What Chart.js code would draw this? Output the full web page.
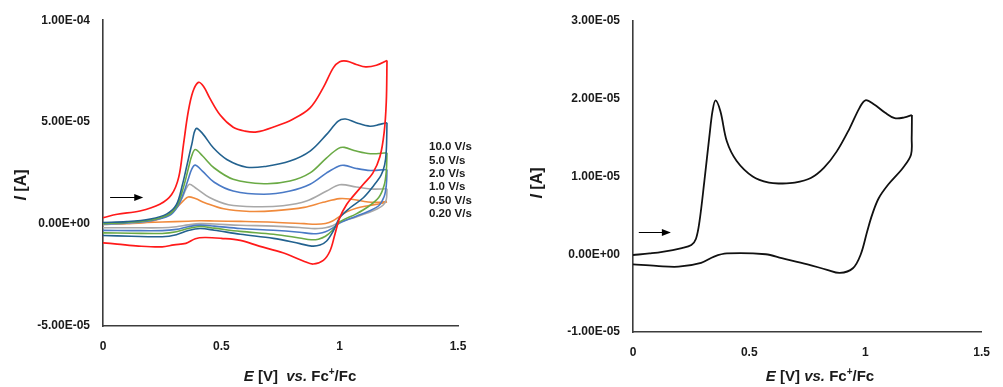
<!DOCTYPE html>
<html><head><meta charset="utf-8">
<script src="https://cdn.jsdelivr.net/npm/chart.js@4.4.1/dist/chart.umd.min.js"></script>
<style>
html,body{margin:0;padding:0;background:#fff;overflow:hidden}
#wrap{position:relative;width:1003px;height:387px}
canvas{position:absolute;top:0}
</style></head><body>
<div id="wrap">
<canvas id="c1" width="500" height="387" style="left:0"></canvas>
<canvas id="c2" width="503" height="387" style="left:500px"></canvas>
</div>
<script>
// Current values are in units of 1e-5 A; potentials in V vs Fc+/Fc.
const xTickValues = [0, 0.5, 1, 1.5];
const xTickLabels = ['0', '0.5', '1', '1.5'];
const leftYTickValues = [-5, 0, 5, 10];
const leftYTickLabels = ['-5.00E-05', '0.00E+00', '5.00E-05', '1.00E-04'];
const rightYTickValues = [-1, 0, 1, 2, 3];
const rightYTickLabels = ['-1.00E-05', '0.00E+00', '1.00E-05', '2.00E-05', '3.00E-05'];
const scanRates = ['10.0 V/s', '5.0 V/s', '2.0 V/s', '1.0 V/s', '0.50 V/s', '0.20 V/s'];

// 10.0 V/s
const E_10 = [0, 0.06, 0.156, 0.24, 0.29, 0.32, 0.34, 0.36, 0.38, 0.403, 0.425, 0.45, 0.495, 0.55, 0.60, 0.65, 0.73, 0.80, 0.875, 0.93, 0.973, 1.0, 1.03, 1.07, 1.11, 1.155, 1.2,
  1.197, 1.188, 1.17, 1.14, 1.10, 1.057, 1.03, 1.0, 0.98, 0.959, 0.931, 0.888, 0.846, 0.76, 0.66, 0.58, 0.50, 0.43, 0.39, 0.35, 0.30, 0.25, 0.15, 0.06, 0];
const I_10 = [0.31, 0.48, 0.64, 0.97, 1.45, 2.3, 3.9, 5.5, 6.5, 6.95, 6.75, 6.2, 5.35, 4.75, 4.56, 4.52, 4.8, 5.13, 5.7, 6.68, 7.66, 7.96, 7.99, 7.83, 7.71, 7.79, 8.02,
  6.0, 4.5, 3.3, 2.5, 1.95, 1.37, 0.97, 0.31, -0.5, -1.32, -1.78, -1.96, -1.81, -1.41, -1.08, -0.80, -0.70, -0.66, -0.72, -0.95, -1.02, -1.12, -1.08, -0.98, -0.92];
// 5.0 V/s
const E_5 = [0, 0.10, 0.20, 0.27, 0.31, 0.335, 0.355, 0.375, 0.393, 0.42, 0.466, 0.523, 0.607, 0.692, 0.79, 0.875, 0.945, 0.994, 1.025, 1.07, 1.128, 1.17, 1.2,
  1.197, 1.19, 1.175, 1.142, 1.10, 1.044, 1.0, 0.973, 0.945, 0.917, 0.882, 0.832, 0.72, 0.58, 0.47, 0.41, 0.36, 0.31, 0.25, 0.12, 0];
const I_5 = [0.08, 0.12, 0.25, 0.5, 0.95, 1.9, 2.9, 3.9, 4.68, 4.45, 3.74, 3.17, 2.79, 2.84, 3.09, 3.58, 4.40, 5.05, 5.15, 4.97, 4.80, 4.89, 4.97,
  3.6, 2.9, 2.4, 1.86, 1.29, 0.8, 0.31, -0.34, -0.83, -1.03, -1.08, -0.96, -0.70, -0.50, -0.30, -0.22, -0.32, -0.52, -0.62, -0.60, -0.56];
// 2.0 V/s
const E_2 = [0, 0.10, 0.20, 0.28, 0.315, 0.34, 0.36, 0.375, 0.39, 0.42, 0.47, 0.55, 0.68, 0.79, 0.875, 0.945, 0.995, 1.02, 1.07, 1.13, 1.2,
  1.197, 1.188, 1.165, 1.12, 1.07, 1.0, 0.97, 0.94, 0.91, 0.88, 0.83, 0.72, 0.58, 0.47, 0.41, 0.36, 0.31, 0.25, 0.12, 0];
const I_2 = [0.02, 0.08, 0.2, 0.48, 0.95, 1.8, 2.7, 3.35, 3.66, 3.35, 2.75, 2.2, 1.98, 2.11, 2.51, 3.25, 3.71, 3.76, 3.58, 3.45, 3.50,
  2.6, 1.9, 1.3, 0.85, 0.5, 0.1, -0.3, -0.6, -0.74, -0.77, -0.68, -0.50, -0.36, -0.2, -0.12, -0.22, -0.38, -0.46, -0.45, -0.43];
// 1.0 V/s
const E_1 = [0, 0.1, 0.2, 0.28, 0.315, 0.34, 0.36, 0.375, 0.39, 0.42, 0.47, 0.55, 0.68, 0.79, 0.875, 0.945, 0.995, 1.02, 1.07, 1.13, 1.2,
  1.197, 1.188, 1.165, 1.12, 1.07, 1.0, 0.97, 0.94, 0.91, 0.88, 0.83, 0.72, 0.58, 0.47, 0.41, 0.36, 0.31, 0.25, 0.12, 0];
const I_1 = [0.0, 0.06, 0.17, 0.42, 0.85, 1.5, 2.2, 2.7, 2.89, 2.6, 2.05, 1.62, 1.46, 1.62, 1.95, 2.51, 2.84, 2.88, 2.73, 2.63, 2.68,
  1.9, 1.35, 0.9, 0.62, 0.38, 0.05, -0.2, -0.38, -0.46, -0.47, -0.40, -0.30, -0.22, -0.1, -0.05, -0.13, -0.26, -0.32, -0.32, -0.31];
// 0.50 V/s
const E_05 = [0, 0.1, 0.2, 0.28, 0.31, 0.335, 0.35, 0.365, 0.39, 0.45, 0.53, 0.65, 0.76, 0.86, 0.945, 1.0, 1.07, 1.13, 1.2,
  1.197, 1.185, 1.16, 1.12, 1.07, 1.0, 0.97, 0.94, 0.91, 0.88, 0.83, 0.72, 0.58, 0.47, 0.41, 0.36, 0.31, 0.25, 0.12, 0];
const I_05 = [-0.02, 0.04, 0.15, 0.45, 0.8, 1.3, 1.7, 1.95, 1.78, 1.3, 0.95, 0.85, 0.9, 1.13, 1.62, 1.93, 1.82, 1.72, 1.73,
  1.2, 0.95, 0.75, 0.55, 0.35, 0.1, -0.08, -0.18, -0.22, -0.22, -0.17, -0.1, -0.06, 0.0, 0.02, -0.04, -0.13, -0.18, -0.18, -0.18];
// 0.20 V/s
const E_02 = [0, 0.1, 0.2, 0.27, 0.31, 0.34, 0.36, 0.39, 0.43, 0.51, 0.62, 0.73, 0.85, 0.93, 1.0, 1.05, 1.12, 1.17, 1.2,
  1.17, 1.12, 1.07, 1.03, 1.0, 0.97, 0.94, 0.90, 0.85, 0.72, 0.58, 0.47, 0.41, 0.36, 0.25, 0.12, 0];
const I_02 = [-0.02, 0.02, 0.12, 0.42, 0.8, 1.15, 1.33, 1.25, 1.05, 0.75, 0.62, 0.66, 0.82, 1.07, 1.25, 1.22, 1.08, 1.07, 1.1,
  1.0, 0.9, 0.78, 0.6, 0.38, 0.15, 0.03, -0.01, 0.02, 0.09, 0.13, 0.15, 0.16, 0.14, 0.1, 0.06, 0.03];
// right panel (single CV)
const E_R = [0, 0.071, 0.126, 0.21, 0.251, 0.271, 0.286, 0.307, 0.328, 0.342, 0.355, 0.376, 0.404, 0.446, 0.515, 0.585, 0.64, 0.696, 0.765, 0.821, 0.876, 0.932, 0.974, 1.0, 1.036, 1.085, 1.126, 1.168, 1.2,
  1.199, 1.196, 1.161, 1.099, 1.057, 1.029, 1.008, 0.98, 0.946, 0.89, 0.835, 0.751, 0.64, 0.571, 0.404, 0.349, 0.293, 0.196, 0.1, 0];
const I_R = [-0.01, 0.01, 0.03, 0.08, 0.12, 0.2, 0.42, 0.94, 1.5, 1.84, 1.98, 1.84, 1.45, 1.2, 1.0, 0.92, 0.91, 0.92, 0.98, 1.11, 1.32, 1.62, 1.88, 1.98, 1.93, 1.82, 1.75, 1.76, 1.79,
  1.5, 1.28, 1.11, 0.90, 0.72, 0.51, 0.30, 0.0, -0.18, -0.24, -0.2, -0.13, -0.05, 0.0, 0.01, -0.03, -0.11, -0.16, -0.15, -0.13];

const seriesColors = ['#ff1a1a', '#23628f', '#6aaa45', '#4a7ac6', '#a8a8a8', '#f08a3c'];

const FONT = "'Liberation Sans', Arial, sans-serif";
const AXIS_COLOR = '#3c3c3c';
const TEXT_COLOR = '#1a1a1a';

function pts(E, I, a, b) {
  const out = [];
  for (let i = a; i <= b; i++) out.push({x: E[i], y: I[i]});
  return out;
}
function loopDatasets(E, I, color, width) {
  const k = E.indexOf(Math.max(...E));
  const base = {showLine: true, borderColor: color, backgroundColor: color, borderWidth: width, pointRadius: 0, tension: 0.35, fill: false};
  return [
    Object.assign({data: pts(E, I, 0, k)}, base),
    Object.assign({data: pts(E, I, k, E.length - 1)}, base)
  ];
}

function drawRuns(ctx, runs, cx, cy, size) {
  const fontFor = r => (r.it ? 'italic ' : '') + 'bold ' + (r.sup ? Math.round(size * 0.65) : size) + 'px ' + FONT;
  let total = 0;
  const widths = runs.map(r => { ctx.font = fontFor(r); const w = ctx.measureText(r.t).width; total += w; return w; });
  let x = cx - total / 2;
  ctx.textBaseline = 'middle';
  ctx.textAlign = 'left';
  runs.forEach((r, i) => {
    ctx.font = fontFor(r);
    ctx.fillText(r.t, x, r.sup ? cy - size * 0.35 : cy);
    x += widths[i];
  });
}

const decor = {
  id: 'decor',
  afterDraw(chart, args, o) {
    const {ctx, scales: {x, y}} = chart;
    ctx.save();
    ctx.fillStyle = '#000';
    ctx.strokeStyle = '#000';
    // direction arrow (placed in data coordinates)
    const x1 = x.getPixelForValue(o.arrow[0]), x2 = x.getPixelForValue(o.arrow[1]), ay = Math.round(y.getPixelForValue(o.arrow[2])) + 0.5;
    ctx.lineWidth = 1;
    ctx.beginPath(); ctx.moveTo(x1, ay); ctx.lineTo(x2 - 6, ay); ctx.stroke();
    ctx.beginPath(); ctx.moveTo(x2, ay); ctx.lineTo(x2 - 9, ay - 3.5); ctx.lineTo(x2 - 9, ay + 3.5); ctx.closePath(); ctx.fill();
    ctx.fillStyle = TEXT_COLOR;
    // x-axis title
    drawRuns(ctx, o.xTitle, o.xTitlePos[0], o.xTitlePos[1], 15);
    // y-axis title
    ctx.save();
    ctx.translate(o.yTitlePos[0], o.yTitlePos[1]);
    ctx.rotate(-Math.PI / 2);
    drawRuns(ctx, [{t: 'I', it: true}, {t: ' [A]'}], 0, 0, 16);
    ctx.restore();
    // scan-rate labels
    if (o.labels) {
      ctx.font = 'bold 11.5px ' + FONT;
      ctx.textAlign = 'left';
      ctx.textBaseline = 'middle';
      o.labels.forEach((t, i) => ctx.fillText(t, o.labelPos[0], o.labelPos[1] + i * o.labelPos[2]));
    }
    ctx.restore();
  }
};

function makeOptions(cfg) {
  const tickFont = {family: FONT, size: 12, weight: 'bold'};
  return {
    responsive: false, animation: false, events: [],
    layout: {padding: {left: 0, right: cfg.padRight, top: cfg.padTop, bottom: 0}},
    plugins: {legend: {display: false}, tooltip: {enabled: false}, decor: cfg.decor},
    scales: {
      x: {
        type: 'linear', min: 0, max: 1.5,
        grid: {display: false, drawTicks: false},
        border: {display: true, color: AXIS_COLOR, width: 1.6},
        afterBuildTicks: s => { s.ticks = xTickValues.map(v => ({value: v})); },
        ticks: {callback: (v, i) => xTickLabels[i], font: tickFont, color: TEXT_COLOR, padding: 13, maxRotation: 0, autoSkip: false},
        afterFit: s => { s.height = cfg.xAxisHeight; }
      },
      y: {
        type: 'linear', min: cfg.yVals[0], max: cfg.yVals[cfg.yVals.length - 1],
        grid: {display: false, drawTicks: false},
        border: {display: true, color: AXIS_COLOR, width: 1.6},
        afterBuildTicks: s => { s.ticks = cfg.yVals.map(v => ({value: v})); },
        ticks: {callback: (v, i) => cfg.yLabels[i], font: tickFont, color: TEXT_COLOR, padding: 13, autoSkip: false},
        afterFit: s => { s.width = cfg.yAxisWidth; }
      }
    }
  };
}

const leftSets = [].concat(
  loopDatasets(E_10, I_10, seriesColors[0], 1.7),
  loopDatasets(E_5, I_5, seriesColors[1], 1.6),
  loopDatasets(E_2, I_2, seriesColors[2], 1.6),
  loopDatasets(E_1, I_1, seriesColors[3], 1.6),
  loopDatasets(E_05, I_05, seriesColors[4], 1.6),
  loopDatasets(E_02, I_02, seriesColors[5], 1.6)
);

new Chart(document.getElementById('c1'), {
  type: 'scatter',
  data: {datasets: leftSets},
  options: makeOptions({
    padRight: 42, padTop: 20, xAxisHeight: 61, yAxisWidth: 103,
    yVals: leftYTickValues, yLabels: leftYTickLabels,
    decor: {
      arrow: [0.03, 0.17, 1.32],
      xTitle: [{t: 'E', it: true}, {t: ' [V]  '}, {t: 'vs.', it: true}, {t: ' Fc'}, {t: '+', sup: true}, {t: '/Fc'}],
      xTitlePos: [300, 377],
      yTitlePos: [22, 185],
      labels: scanRates,
      labelPos: [429, 147, 13.4]
    }
  }),
  plugins: [decor]
});

new Chart(document.getElementById('c2'), {
  type: 'scatter',
  data: {datasets: loopDatasets(E_R, I_R, '#111111', 1.8)},
  options: makeOptions({
    padRight: 10, padTop: 21, xAxisHeight: 55, yAxisWidth: 133,
    yVals: rightYTickValues, yLabels: rightYTickLabels,
    decor: {
      arrow: [0.025, 0.163, 0.28],
      xTitle: [{t: 'E', it: true}, {t: ' [V] '}, {t: 'vs.', it: true}, {t: ' Fc'}, {t: '+', sup: true}, {t: '/Fc'}],
      xTitlePos: [320, 377],
      yTitlePos: [38, 183]
    }
  }),
  plugins: [decor]
});
</script>
</body></html>
